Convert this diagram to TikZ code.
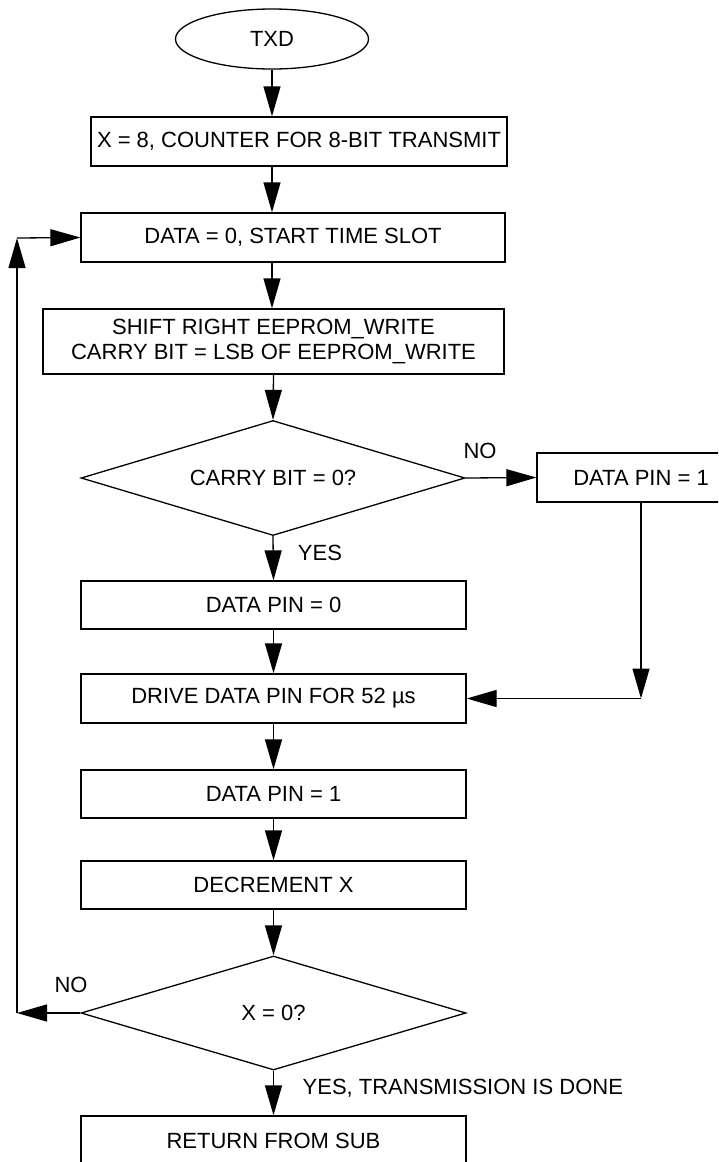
\documentclass[tikz,border=0pt]{standalone}
\usepackage{fontspec}
\setmainfont{Liberation Sans}
\usetikzlibrary{shapes.geometric, arrows.meta}

\begin{document}
\begin{tikzpicture}[x=1pt, y=-1pt, line width=1.3pt,
  font=\fontsize{22}{25}\selectfont,
  box/.style={draw, rectangle, minimum height=49pt, inner sep=0pt},
  decision/.style={draw, diamond, shape aspect=3.35, minimum width=385pt, minimum height=115pt, inner sep=0pt},
  lbl/.style={inner sep=0pt},
  flow/.style={-{Triangle[length=30pt, width=17pt]}}]
  \useasboundingbox (0,0) rectangle (718,1162);
  \clip (0,0) rectangle (718,1162);

  % start
  \node[draw, ellipse, minimum width=193pt, minimum height=60pt, inner sep=0pt] (txd) at (272,39) {TXD};

  % main column
  \node[box, minimum width=416pt] (count) at (299,141.5) {X = 8, COUNTER FOR 8-BIT TRANSMIT};
  \node[box, minimum width=424pt] (slot) at (293,237.5) {DATA = 0, START TIME SLOT};
  \node[box, minimum width=461pt, minimum height=65pt, align=center] (shift) at (273.5,341.5)
    {SHIFT RIGHT EEPROM\_WRITE\\CARRY BIT = LSB OF EEPROM\_WRITE};
  \node[decision, minimum width=384pt] (carry) at (273,478) {CARRY BIT = 0?};
  \node[box, minimum width=385pt, minimum height=48pt] (pinlo) at (273.5,605) {DATA PIN = 0};
  \node[box, minimum width=385pt] (drive) at (273.5,698.5) {DRIVE DATA PIN FOR 52 µs};
  \node[box, minimum width=385pt, minimum height=48pt] (pinup) at (273.5,794) {DATA PIN = 1};
  \node[box, minimum width=385pt, minimum height=48pt] (decx) at (273.5,885) {DECREMENT X};
  \node[decision, minimum height=114pt] (xzero) at (273.5,1013) {X = 0?};
  \node[box, minimum width=385pt] (ret) at (273.5,1140.5) {RETURN FROM SUB};

  % side branch
  \node[box, minimum width=208pt] (pinhi) at (641,477.5) {DATA PIN = 1};

  % branch labels
  \node[lbl] (no1) at (480,451) {NO};
  \node[lbl] (yes1) at (320,553) {YES};
  \node[lbl] (no2) at (71,985) {NO};
  \node[lbl, anchor=west] (yes2) at (302,1088) {YES, TRANSMISSION IS DONE};

  % corners of the loop and of the side branch
  \coordinate (loopbot) at (17,1013);
  \coordinate (looptop) at (17,238);
  \coordinate (rjoin) at (641,698.5);

  % arrows down the main column
  \draw[flow] (txd.south) -- (txd.south |- count.north);
  \draw[flow] (txd.south |- count.south) -- (txd.south |- slot.north);
  \draw[flow] (txd.south |- slot.south) -- (txd.south |- shift.north);
  \draw[flow] (shift.south) -- (carry.north);
  \draw[flow] (carry.south) -- (pinlo.north);
  \draw[flow] (pinlo.south) -- (drive.north);
  \draw[flow] (drive.south) -- (pinup.north);
  \draw[flow] (pinup.south) -- (decx.north);
  \draw[flow] (decx.south) -- (xzero.north);
  \draw[flow] (xzero.south) -- (ret.north);

  % NO branch of the carry test
  \draw[flow] (carry.east) -- (pinhi.west);
  \draw[flow] (pinhi.south) -- (rjoin);
  \draw[flow] (rjoin) -- (drive.east);

  % loop back for the next bit
  \draw[flow] (xzero.west) -- (loopbot);
  \draw[flow] (loopbot) -- (looptop);
  \draw[flow] (looptop) -- (slot.west);
\end{tikzpicture}
\end{document}
